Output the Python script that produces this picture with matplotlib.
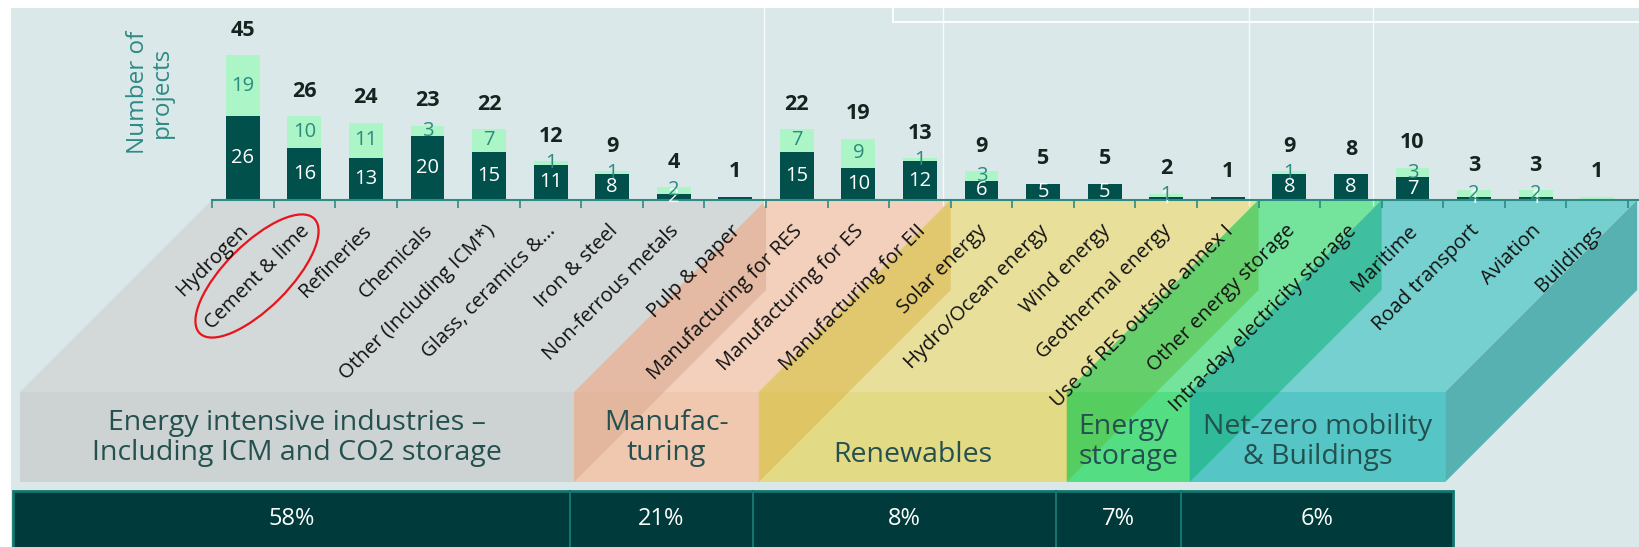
import numpy as np
import matplotlib
matplotlib.use('Agg')
import matplotlib.pyplot as plt
from matplotlib.patches import Polygon, Rectangle, Ellipse
from matplotlib.transforms import blended_transform_factory

plt.rcParams['font.family'] = ['Open Sans', 'DejaVu Sans']

# projects per sector (dark = first part, light = second part)
categories = ['Hydrogen', 'Cement & lime', 'Refineries', 'Chemicals', 'Other (Including ICM*)',
              'Glass, ceramics &...', 'Iron & steel', 'Non-ferrous metals', 'Pulp & paper',
              'Manufacturing for RES', 'Manufacturing for ES', 'Manufacturing for EII',
              'Solar energy', 'Hydro/Ocean energy', 'Wind energy', 'Geothermal energy',
              'Use of RES outside annex I', 'Other energy storage', 'Intra-day electricity storage',
              'Maritime', 'Road transport', 'Aviation', 'Buildings']
dark_vals = [26, 16, 13, 20, 15, 11, 8, 2, 1, 15, 10, 12, 6, 5, 5, 1, 1, 8, 8, 7, 1, 1, 0]
light_vals = [19, 10, 11, 3, 7, 1, 1, 2, 0, 7, 9, 1, 3, 0, 0, 1, 0, 1, 0, 3, 2, 2, 1]

# sector groups
group_names = ['Energy intensive industries –\nIncluding ICM and CO2 storage', 'Manufac-\nturing',
               'Renewables', 'Energy\nstorage', 'Net-zero mobility\n& Buildings']
group_sizes = [9, 3, 5, 2, 4]
group_shares = ['58%', '21%', '8%', '7%', '6%']

# colours
bg_col = '#dae8e9'
dark_col = '#01504c'
light_col = '#abf5c6'
teal = '#2e8a85'
top_cols = ['#d3d8d8', '#f2d0bc', '#e8df9a', '#74e49c', '#76d0cf']
front_cols = ['#cdd2d3', '#f0c8b0', '#e3da85', '#55dd84', '#55c5c5']
side_cols = [None, '#d8a68e', '#dcb142', '#58be3c', '#0ab071']

W, H = 1639, 547
fig = plt.figure(figsize=(W / 100, H / 100), dpi=100, facecolor='white')

# background axes in pixel units (y down)
ax_bg = fig.add_axes([0, 0, 1, 1], zorder=0)
ax_bg.set_xlim(0, W)
ax_bg.set_ylim(H, 0)
ax_bg.axis('off')
ax_bg.add_patch(Rectangle((10.5, 8), W, H, color=bg_col, lw=0))

# bar axes
base_y = 200
left_px = 212
ax = fig.add_axes([left_px / W, (H - base_y) / H, (W - left_px) / W, 192 / H], zorder=1)
ax.patch.set_alpha(0)
n = len(categories)
ax.set_xlim(-0.5, 22.68)
ax.set_ylim(0, 192 / 3.22)

x = np.arange(n)
dark = np.array(dark_vals)
light = np.array(light_vals)
total = dark + light
ax.bar(x, dark, width=0.55, color=dark_col, edgecolor='none')
ax.bar(x, light, bottom=dark, width=0.55, color=light_col, edgecolor='none')

for i in range(n):
    ax.annotate(str(total[i]), (i, total[i]), xytext=(0, 18), textcoords='offset points',
                ha='center', va='center', fontsize=15.5, fontweight='bold', color='#14241e')
    if total[i] >= 2:
        if dark[i] > 0:
            ax.text(i, dark[i] / 2, str(dark[i]), ha='center', va='center', fontsize=14.5, color='white')
        if light[i] > 0:
            ax.text(i, dark[i] + light[i] / 2, str(light[i]), ha='center', va='center',
                    fontsize=14.5, color='#2a8c7f')

# axis styling
for s in ['top', 'right', 'left']:
    ax.spines[s].set_visible(False)
ax.spines['bottom'].set_color(teal)
ax.spines['bottom'].set_linewidth(1.5)
ax.set_yticks([])
ax.set_xticks([])
ax.set_xticks(np.arange(-0.5, n, 1.0), minor=True)
ax.tick_params(axis='x', which='minor', length=5.8, width=1.2, color=teal, labelbottom=False)

# rotated category labels
trans = blended_transform_factory(ax.transData, ax.transAxes)
for i, c in enumerate(categories):
    ax.text(i + 0.04, -28 / 192, c, transform=trans, rotation=45, rotation_mode='anchor',
            ha='right', va='center', fontsize=14.5, color='#111111')

ax.text(-62 / 61.56 - 0.5, 0.56, 'Number of\nprojects', transform=trans, rotation=90,
        ha='center', va='center', fontsize=17.5, color=teal, linespacing=0.95)


def to_px(xv, yv):
    px, py = ax.transData.transform((xv, yv))
    return px, H - py


# 3D style group boxes under the axis
d = 192
front_top, front_bot = base_y + d, base_y + d + 90
edges = np.concatenate([[-0.5], np.cumsum(group_sizes) - 0.5])
edges = edges.astype(float)
edges[-1] = 22.65
for g in range(len(group_names)):
    bx0 = to_px(edges[g], 0)[0]
    bx1 = to_px(edges[g + 1], 0)[0]
    fx0, fx1 = bx0 - d, bx1 - d
    ax_bg.add_patch(Polygon([(fx0, front_top), (fx1, front_top), (bx1, base_y), (bx0, base_y)],
                            closed=True, color=top_cols[g], lw=0))
    ax_bg.add_patch(Rectangle((fx0, front_top), fx1 - fx0, front_bot - front_top,
                              color=front_cols[g], lw=0))
    if side_cols[g]:
        ax_bg.add_patch(Polygon([(fx0, front_top), (fx0, front_bot), (bx0, base_y + 90), (bx0, base_y)],
                                closed=True, color=side_cols[g], alpha=0.5, lw=0))
    if g == len(group_names) - 1:
        ax_bg.add_patch(Polygon([(fx1, front_top), (fx1, front_bot), (bx1, base_y + 90), (bx1, base_y)],
                                closed=True, color='#57b1b1', lw=0))
    if group_names[g] == 'Renewables':
        ty = 455
    elif g == 0 or g == 1:
        ty = 438
    else:
        ty = 442
    ax_bg.text((fx0 + fx1) / 2, ty, group_names[g], ha='center', va='center', multialignment='left'
               if g == 3 else 'center', fontsize=20.5, color='#24504f', linespacing=1.1)

# percentage strip
share_edges = [13, 570, 753, 1056, 1181, 1453]
ax_bg.add_patch(Rectangle((share_edges[0], 491), share_edges[-1] - share_edges[0], 70,
                          facecolor='#003a3a', edgecolor='#12756f', lw=2))
for e in share_edges[1:-1]:
    ax_bg.plot([e, e], [491, H], color='#12756f', lw=1.5)
for k, s in enumerate(group_shares):
    ax_bg.text((share_edges[k] + share_edges[k + 1]) / 2, 519, s, ha='center', va='center',
               fontsize=17, color='white')

# faint white guide lines from the original slide
for lx in [764, 943, 1249, 1373]:
    ax_bg.plot([lx, lx], [8, 205], color='white', lw=1, alpha=0.8)
ax_bg.plot([893, W], [22, 22], color='white', lw=1.5, alpha=0.9)
ax_bg.plot([893, 893], [8, 22], color='white', lw=1.5, alpha=0.9)

# red highlight around cement
ax_bg.add_patch(Ellipse((257, 276), 162, 64, angle=-45, fill=False, edgecolor='#e8141c', lw=1.6))

fig.savefig('out.png', dpi=100, facecolor='white')
